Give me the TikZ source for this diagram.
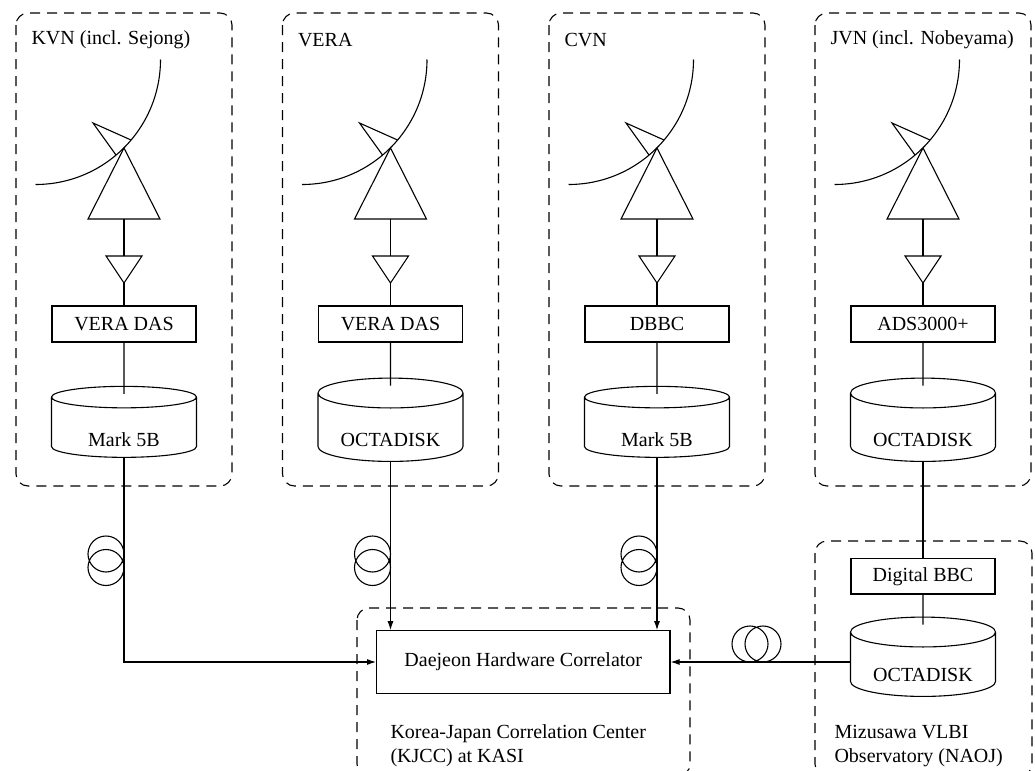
\documentclass[tikz,border=0pt]{standalone}
\usepackage{fontspec}
\setmainfont{Liberation Serif}
\usetikzlibrary{shapes.geometric,arrows.meta}

\tikzset{
    site/.style={dash pattern=on 5pt off 3.5pt, rounded corners=6pt},
    unit/.style={draw, minimum width=72pt, minimum height=18pt, inner sep=0pt},
    disk/.style={cylinder, shape border rotate=90, draw, aspect=0.3,
        minimum width=72.5pt, minimum height=35.5pt, inner sep=0pt,
        text height=19pt, text depth=0pt},
    caption/.style={anchor=west, align=left, inner sep=0pt},
}

\begin{document}
\begin{tikzpicture}[x=5pt, y=5pt, line width=0.55pt, >={Latex[length=4.5pt,width=3pt]}]
    \useasboundingbox (0,0) rectangle (103.5,-77.1);

    % stations
    \foreach \x/\n/\lab/\das/\rec in {12.4/kvn/KVN (incl. Sejong)/VERA DAS/Mark 5B,
        39.05/vera/VERA/VERA DAS/OCTADISK, 65.7/cvn/CVN/DBBC/Mark 5B,
        92.3/jvn/JVN (incl. Nobeyama)/ADS3000+/OCTADISK}{
        \draw[site] (\x-10.8,-1.3) rectangle (\x+10.8,-48.6);
        \node[caption] (\n-lab) at (\x-9.3,-4.0) {\lab};
        \draw (\x+3.65,-5.95) arc[start angle=0, end angle=-90, radius=12.5];
        \draw (\x+0.7,-14.0) -- (\x-3.1,-12.3) -- (\x-0.8,-15.5);
        \draw (\x,-14.8) -- (\x-3.6,-21.9) -- (\x+3.6,-21.9) -- cycle;
        \coordinate (\n-mount) at (\x,-21.9);
        \coordinate (\n-lna) at (\x,-25.6);
        \draw (\x-1.8,-25.6) -- (\x+1.8,-25.6) -- (\x,-28.3) coordinate (\n-amp) -- cycle;
        \node[unit] (\n-das) at (\x,-32.4) {\das};
        \node[disk] (\n-rec) at (\x,-42.75) {\rec};
        \draw (\n-mount) -- (\n-lna);
        \draw (\n-amp) -- (\n-das);
        \draw (\n-das) -- ([yshift=-4pt]\n-rec.north);
    }

    % fibre links
    \foreach \x in {12.4,39.05,65.7}
        \draw (\x-1.8,-55.4) circle[radius=1.8] (\x-1.8,-56.75) circle[radius=1.8];
    \draw (75.0,-64.4) circle[radius=1.8] (76.3,-64.4) circle[radius=1.8];

    % correlator and Mizusawa
    \draw[site] (35.7,-60.8) rectangle (69.0,-77.6);
    \draw[site] (81.5,-54.1) rectangle (103.2,-77.6);
    \node[draw, minimum width=146.7pt, minimum height=31.3pt] (corr) at (52.33,-66.2) {Daejeon Hardware Correlator};
    \node[caption] (kjcc) at (39.0,-74.6) {Korea-Japan Correlation Center\\(KJCC) at KASI};
    \node[unit, minimum height=17.6pt] (bbc) at (92.3,-57.64) {Digital BBC};
    \node[disk, minimum height=33.8pt, text height=17pt] (mz-rec) at (92.3,-66.45) {OCTADISK};
    \node[caption] (naoj) at (83.4,-74.6) {Mizusawa VLBI\\Observatory (NAOJ)};

    \draw[->] (kvn-rec.south) |- (corr.west);
    \draw[->] (vera-rec.south) -- (vera-rec.south |- corr.north);
    \draw[->] (cvn-rec.south) -- (cvn-rec.south |- corr.north);
    \draw (jvn-rec.south) -- (bbc.north);
    \draw (bbc) -- ([yshift=-4pt]mz-rec.north);
    \draw[->] (mz-rec.west |- corr.east) -- (corr.east);
\end{tikzpicture}
\end{document}
